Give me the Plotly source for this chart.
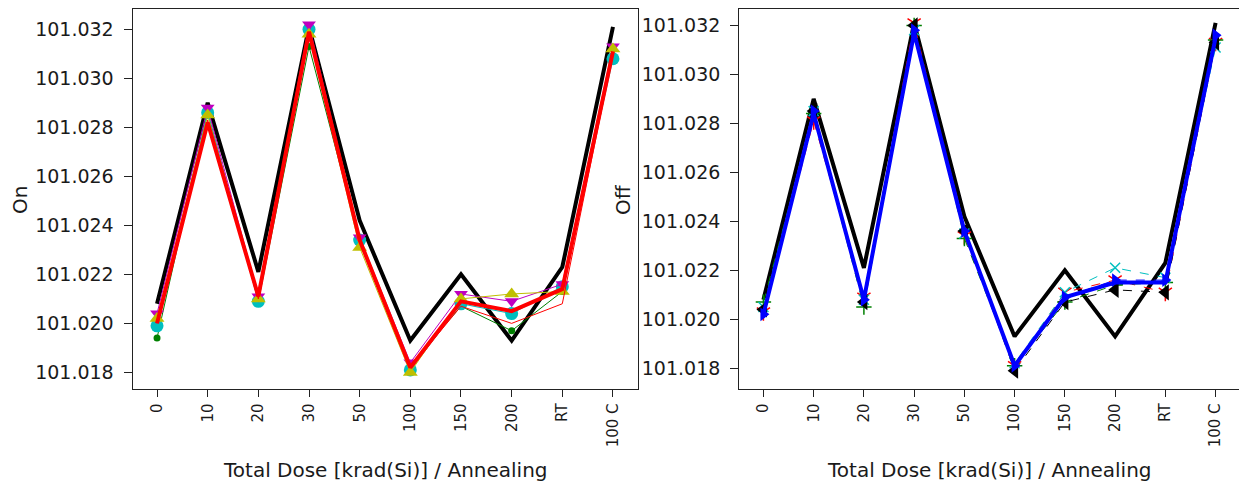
import plotly.graph_objects as go

categories = ["0", "10", "20", "30", "50", "100", "150", "200", "RT", "100 C"]

# Left panel ("On")
on_reference = [101.0208, 101.0290, 101.0221, 101.0321, 101.0242, 101.0193, 101.0220, 101.0193, 101.0223, 101.0321]
on_green = [101.0194, 101.0286, 101.0209, 101.0313, 101.0234, 101.0183, 101.0207, 101.0197, 101.0213, 101.0312]
on_cyan = [101.0199, 101.0286, 101.0209, 101.0320, 101.0234, 101.0181, 101.0208, 101.0204, 101.0215, 101.0308]
on_magenta = [101.0204, 101.0288, 101.0211, 101.0322, 101.0235, 101.0184, 101.0212, 101.0209, 101.0216, 101.0313]
on_yellow = [101.0202, 101.0285, 101.0210, 101.0318, 101.0231, 101.0180, 101.0210, 101.0212, 101.0213, 101.0312]
on_red = [101.0200, 101.0283, 101.0210, 101.0319, 101.0233, 101.0182, 101.0207, 101.0200, 101.0208, 101.0310]
on_mean = [101.0200, 101.0282, 101.0211, 101.0319, 101.0234, 101.0182, 101.0209, 101.0205, 101.0214, 101.0311]

# Right panel ("Off")
off_reference = [101.0208, 101.0290, 101.0221, 101.0321, 101.0242, 101.0193, 101.0220, 101.0193, 101.0223, 101.0321]
off_red = [101.0203, 101.0281, 101.0209, 101.0321, 101.0234, 101.0181, 101.0211, 101.0216, 101.0211, 101.0313]
off_green = [101.0207, 101.0284, 101.0205, 101.0320, 101.0233, 101.0181, 101.0207, 101.0214, 101.0215, 101.0314]
off_cyan = [101.0205, 101.0285, 101.0208, 101.0318, 101.0235, 101.0182, 101.0211, 101.0221, 101.0217, 101.0311]
off_black = [101.0204, 101.0285, 101.0207, 101.0320, 101.0236, 101.0179, 101.0207, 101.0212, 101.0211, 101.0313]
off_blue = [101.0202, 101.0285, 101.0208, 101.0318, 101.0236, 101.0181, 101.0209, 101.0216, 101.0216, 101.0316]
off_mean = [101.0202, 101.0284, 101.0208, 101.0317, 101.0236, 101.0181, 101.0209, 101.0215, 101.0215, 101.0315]

y_ticks = [101.018, 101.020, 101.022, 101.024, 101.026, 101.028, 101.030, 101.032]

# The page body adds an 8px margin; figure coordinates = page coordinates - 8
PAD = 8
W, H = 1247 - PAD, 484 - PAD


def px(x):
    return (x - PAD) / W


def py(y):
    return min(1.0, max(0.0, 1 - (y - PAD) / H))


x_idx = list(range(len(categories)))

fig = go.Figure()


def add(xa, ya, y, color, width, symbol=None, size=8, dash="solid", mline=0):
    mode = "lines+markers" if symbol else "lines"
    marker = None
    if symbol:
        marker = dict(symbol=symbol, size=size, color=color,
                      line=dict(color=color, width=mline))
    fig.add_trace(go.Scatter(x=x_idx, y=y, xaxis=xa, yaxis=ya, mode=mode,
                             line=dict(color=color, width=width, dash=dash),
                             marker=marker, showlegend=False, hoverinfo="skip"))


# left panel
add("x", "y", on_reference, "#000000", 4)
add("x", "y", on_green, "#008000", 1, "circle", 7)
add("x", "y", on_cyan, "#00bfbf", 1, "circle", 13)
add("x", "y", on_magenta, "#bf00bf", 1, "triangle-down", 12)
add("x", "y", on_yellow, "#bfbf00", 1, "triangle-up", 13)
add("x", "y", on_red, "#ff0000", 1)
add("x", "y", on_mean, "#ff0000", 4)

# right panel
add("x2", "y2", off_reference, "#000000", 4)
add("x2", "y2", off_red, "#ff0000", 1, "y-down-open", 11, "dash", 1.5)
add("x2", "y2", off_green, "#008000", 1, "cross-thin-open", 11, "dash", 1.5)
add("x2", "y2", off_cyan, "#00bfbf", 1, "x-thin-open", 10, "dash", 1.5)
add("x2", "y2", off_black, "#000000", 1, "triangle-left", 14, "dash")
add("x2", "y2", off_blue, "#0000ff", 1, "triangle-right", 12, "dash")
add("x2", "y2", off_mean, "#0000ff", 4)

TXT = "#1a1a1a"


def xaxis(domain, anchor):
    return dict(domain=domain, anchor=anchor, range=[-0.48, 9.5],
                tickmode="array", tickvals=x_idx, ticktext=categories,
                tickangle=-90, ticks="outside", ticklen=7, tickwidth=1.3,
                tickcolor="#222", showline=True, linecolor="#222", linewidth=1.3,
                mirror=True, showgrid=False, zeroline=False,
                tickfont=dict(size=15, family="DejaVu Sans", color=TXT))


def yaxis(domain, anchor, rng):
    return dict(domain=domain, anchor=anchor, range=rng,
                tickmode="array", tickvals=y_ticks,
                ticktext=[f"{v:.3f} " for v in y_ticks],
                ticks="outside", ticklen=8, tickwidth=1.3, tickcolor="#222",
                showline=True, linecolor="#222", linewidth=1.3, mirror=True,
                showgrid=False, zeroline=False,
                tickfont=dict(size=19, family="DejaVu Sans", color=TXT))


ydom = [py(389.3), py(9)]
title_font = dict(size=20, family="DejaVu Sans", color=TXT)
fig.update_layout(
    width=W, height=H,
    margin=dict(l=0, r=0, t=0, b=0),
    paper_bgcolor="white", plot_bgcolor="white",
    font=dict(family="DejaVu Sans", color=TXT),
    xaxis=xaxis([px(132.7), px(638.3)], "y"),
    yaxis=yaxis(ydom, "x", [101.01731, 101.03283]),
    xaxis2=xaxis([px(739.3), px(1240.7)], "y2"),
    yaxis2=yaxis(ydom, "x2", [101.01714, 101.03267]),
    annotations=[
        dict(text="On", x=px(20), y=py(200), xref="paper", yref="paper",
             xanchor="center", yanchor="middle", borderpad=0,
             textangle=-90, showarrow=False, font=title_font),
        dict(text="Off", x=px(623), y=py(200), xref="paper", yref="paper",
             xanchor="center", yanchor="middle", borderpad=0,
             textangle=-90, showarrow=False, font=title_font),
        dict(text="Total Dose [krad(Si)] / Annealing", x=px(385), y=py(470),
             xref="paper", yref="paper", xanchor="center", yanchor="middle",
             showarrow=False, font=title_font),
        dict(text="Total Dose [krad(Si)] / Annealing", x=px(990), y=py(470),
             xref="paper", yref="paper", xanchor="center", yanchor="middle",
             showarrow=False, font=title_font),
    ],
)

fig.write_html("out.html")
